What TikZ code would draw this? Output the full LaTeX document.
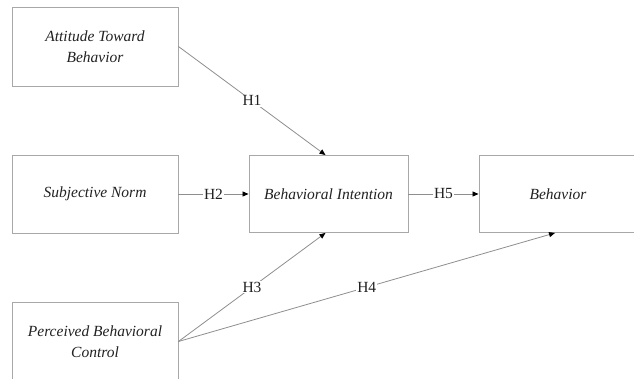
\documentclass[tikz,border=0pt]{standalone}
\usepackage{fontspec}
\setmainfont{Liberation Serif}
\usetikzlibrary{arrows.meta}
\definecolor{boxline}{HTML}{A8A8A8}
\definecolor{conline}{HTML}{8E8E8E}
\definecolor{txt}{HTML}{222222}
\tikzset{
  construct/.style={draw=boxline, line width=0.9pt, rectangle, minimum width=166pt, minimum height=79pt,
    align=center, font=\fontsize{15.5}{21}\selectfont\itshape, text=txt, inner sep=0pt},
  link/.style={draw=conline, line width=0.8pt, -{Triangle[length=6pt,width=5pt,fill=black,color=black]}},
  hlabel/.style={fill=white, inner sep=1pt, font=\fontsize{15.5}{17}\selectfont, text=txt}
}
\begin{document}
\begin{tikzpicture}[x=1pt,y=1pt]
\useasboundingbox (0,0) rectangle (634,379);
\node[construct] (A) at (95,332.5) {Attitude Toward\\Behavior};
\node[construct, minimum height=78pt] (SN) at (95,185) {Subjective Norm};
\node[construct, minimum width=159pt, minimum height=77pt] (BI) at (328.5,185) {Behavioral Intention};
\node[construct, minimum width=158pt, minimum height=77pt] (B) at (558,185) {Behavior};
\node[construct] (PBC) at (95,37.5) {Perceived Behavioral\\Control};
\draw[link] (A.east) -- node[hlabel] {H1} ([xshift=-3pt]BI.north);
\draw[link] (SN.east) -- node[hlabel] {H2} (BI.west);
\draw[link] (BI.east) -- node[hlabel] {H5} (B.west);
\draw[link] (PBC.east) -- node[hlabel] {H3} ([xshift=-3pt]BI.south);
\draw[link] (PBC.east) -- node[hlabel] {H4} ([xshift=-3pt]B.south);
\end{tikzpicture}
\end{document}
